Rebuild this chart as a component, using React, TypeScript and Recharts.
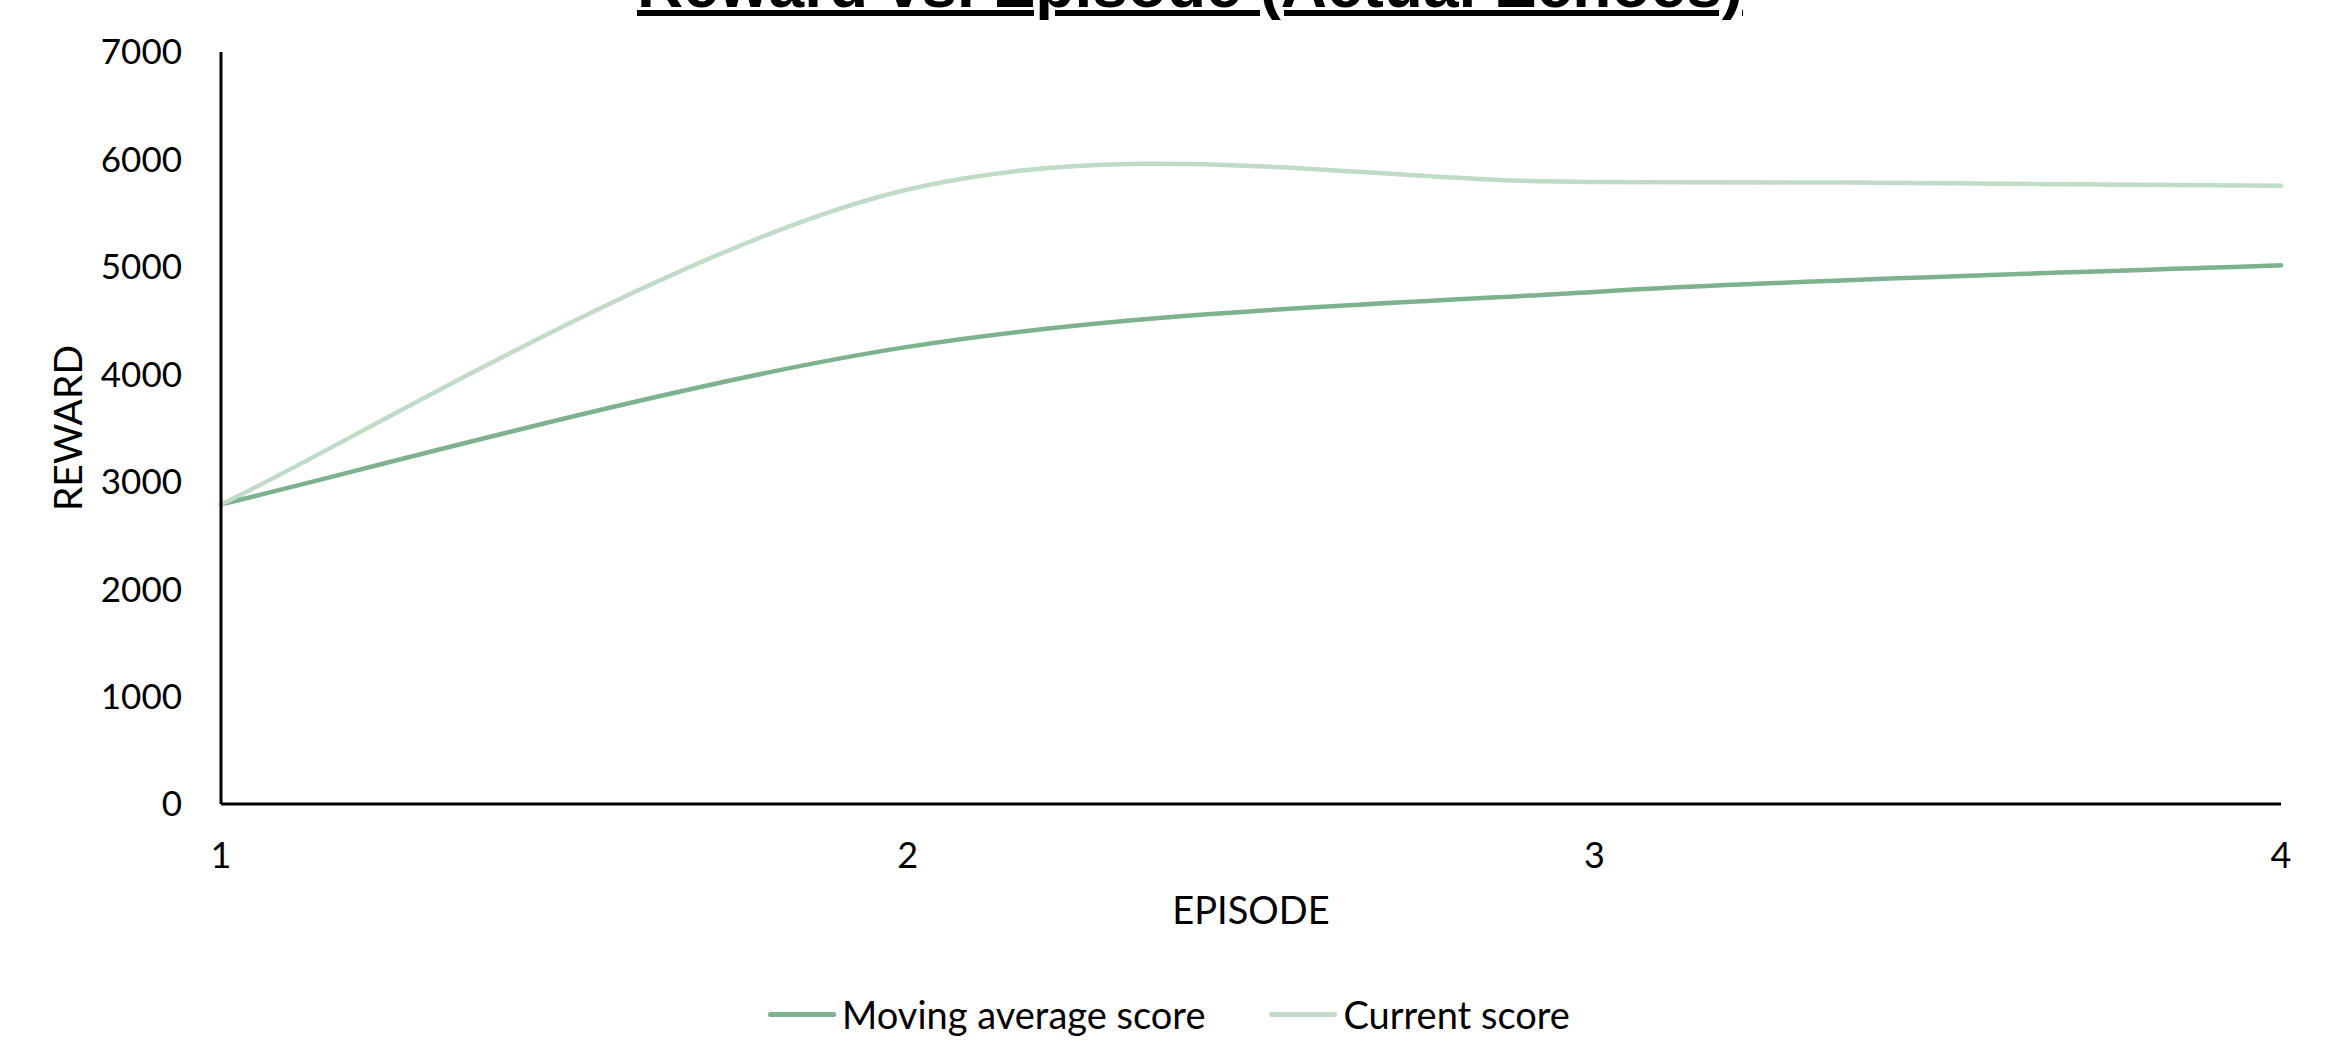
import React from 'react';
import { LineChart, Line, XAxis, YAxis, Legend } from 'recharts';

// Episode numbers and the two reward series
const episodes = [1, 2, 3, 4];
const currentScore = [2790, 5720, 5790, 5755];
const movingAverageScore = [2790, 4255, 4767, 5014];
const rewardTicks = [0, 1000, 2000, 3000, 4000, 5000, 6000, 7000];
const episodeTicks = [1, 2, 3, 4];
const seriesOrder = ['Moving average score', 'Current score'];

const data = episodes.map((episode, i) => ({
  episode,
  movingAverage: movingAverageScore[i],
  current: currentScore[i],
}));

const FONT = 'Lato, "Open Sans", sans-serif';
const MOVING_COLOR = '#7db28f';
const CURRENT_COLOR = '#c0dbc6';

// Spreadsheet-style smoothing: cubic Bezier segments whose control points
// follow the neighbouring points (end points are repeated at the edges).
function smoothCurve(context: any) {
  let pts: [number, number][] = [];
  return {
    areaStart() {},
    areaEnd() {},
    lineStart() {
      pts = [];
    },
    point(x: number, y: number) {
      pts.push([+x, +y]);
    },
    lineEnd() {
      const n = pts.length;
      if (!n) return;
      context.moveTo(pts[0][0], pts[0][1]);
      for (let i = 0; i < n - 1; i++) {
        const p0 = pts[Math.max(i - 1, 0)];
        const p1 = pts[i];
        const p2 = pts[i + 1];
        const p3 = pts[Math.min(i + 2, n - 1)];
        context.bezierCurveTo(
          p1[0] + (p2[0] - p0[0]) / 6,
          p1[1] + (p2[1] - p0[1]) / 6,
          p2[0] - (p3[0] - p1[0]) / 6,
          p2[1] - (p3[1] - p1[1]) / 6,
          p2[0],
          p2[1]
        );
      }
    },
  };
}

function RewardTitle(props: any) {
  const { viewBox } = props;
  const cx = viewBox.x + 67;
  const cy = viewBox.y + viewBox.height / 2;
  return (
    <text
      x={cx}
      y={cy}
      transform={`rotate(-90, ${cx}, ${cy})`}
      textAnchor="middle"
      dominantBaseline="central"
      fill="#000"
      style={{ fontFamily: FONT, fontSize: 39 }}
    >
      REWARD
    </text>
  );
}

function LegendContent(props: any) {
  const items = [...(props.payload || [])].sort(
    (a: any, b: any) => seriesOrder.indexOf(a.value) - seriesOrder.indexOf(b.value)
  );
  return (
    <div
      style={{
        display: 'flex',
        justifyContent: 'center',
        alignItems: 'center',
        height: 50,
        fontFamily: FONT,
        fontSize: 38,
        color: '#000',
      }}
    >
      {items.map((item: any, i: number) => (
        <div
          key={item.value}
          style={{ display: 'flex', alignItems: 'center', marginLeft: i ? 64 : 0 }}
        >
          <span
            style={{
              display: 'inline-block',
              width: 68,
              height: 5,
              borderRadius: 3,
              background: item.color,
              marginRight: 6,
            }}
          />
          <span>{item.value}</span>
        </div>
      ))}
    </div>
  );
}

export default function App() {
  return (
    <div style={{ position: 'absolute', left: 0, top: 0, width: 2338, height: 1046, overflow: 'hidden', background: '#fff' }}>
      <div
        style={{
          position: 'absolute',
          left: 0,
          width: 2380,
          top: -47,
          textAlign: 'center',
          fontFamily: '"Liberation Sans", Arial, sans-serif',
          fontWeight: 700,
          fontSize: 64,
          lineHeight: 1,
          color: '#000',
          textDecoration: 'underline',
          textDecorationThickness: '6px',
          textUnderlineOffset: '3px',
          whiteSpace: 'nowrap',
        }}
      >
        Reward vs. Episode (Actual Echoes)
      </div>
      <LineChart
        width={2338}
        height={1046}
        data={data}
        margin={{ top: 52, right: 57, left: 0, bottom: 7 }}
      >
        <XAxis
          dataKey="episode"
          type="number"
          domain={[1, 4]}
          ticks={episodeTicks}
          height={185}
          tickLine={false}
          tickSize={0}
          tickMargin={38}
          axisLine={{ stroke: '#000', strokeWidth: 3 }}
          tick={{ fill: '#000', fontFamily: FONT, fontSize: 36 }}
          label={{
            value: 'EPISODE',
            position: 'insideTop',
            offset: 93,
            style: { fill: '#000', fontFamily: FONT, fontSize: 38 },
          }}
        />
        <YAxis
          type="number"
          domain={[0, 7000]}
          ticks={rewardTicks}
          width={221}
          tickLine={false}
          tickSize={0}
          tickMargin={39}
          axisLine={{ stroke: '#000', strokeWidth: 3 }}
          tick={{ fill: '#000', fontFamily: FONT, fontSize: 35 }}
          label={(p: any) => <RewardTitle {...p} />}
        />
        <Legend
          verticalAlign="bottom"
          height={50}
          content={(p: any) => <LegendContent {...p} />}
          wrapperStyle={{ left: 0, width: 2338, bottom: 7 }}
        />
        <Line
          dataKey="movingAverage"
          name="Moving average score"
          type={smoothCurve as any}
          stroke={MOVING_COLOR}
          strokeWidth={4.5}
          strokeLinecap="round"
          dot={false}
          activeDot={false}
          isAnimationActive={false}
        />
        <Line
          dataKey="current"
          name="Current score"
          type={smoothCurve as any}
          stroke={CURRENT_COLOR}
          strokeWidth={4.5}
          strokeLinecap="round"
          dot={false}
          activeDot={false}
          isAnimationActive={false}
        />
      </LineChart>
    </div>
  );
}
